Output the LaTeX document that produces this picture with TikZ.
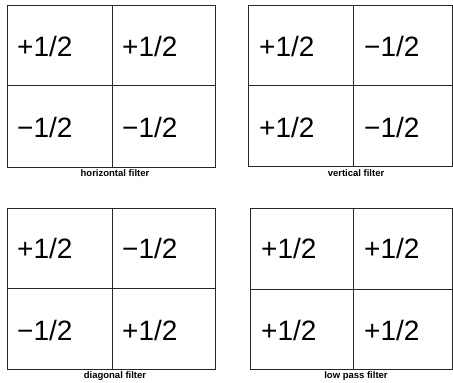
\documentclass[tikz,border=0pt]{standalone}
\usepackage{fontspec}
\setmainfont{Liberation Sans}
\usetikzlibrary{positioning}

\begin{document}
\begin{tikzpicture}[x=1pt,y=-1pt,
  grid/.style={line width=0.7pt,black!85},
  val/.style={anchor=base west,inner sep=0pt,font=\fontsize{28}{28}\selectfont},
  filtername/.style={anchor=base,inner sep=0pt,font=\bfseries\fontsize{9.5}{10}\selectfont}]
  \useasboundingbox (0,0) rectangle (453,383);
  % horizontal filter
  \draw[grid] (7,5) rectangle (215,167);
  \draw[grid] (112,5)--(112,167);
  \draw[grid] (7,85)--(215,85);
  \node[val] (h11) at (17,56) {+1/2};
  \node[val] (h12) at (122,56) {+1/2};
  \node[val] (h21) at (17,137) {−1/2};
  \node[val] (h22) at (122,137) {−1/2};
  \node[filtername] (hname) at (115,176) {horizontal filter};
  % vertical filter
  \draw[grid] (248,5) rectangle (452,166);
  \draw[grid] (353,5)--(353,166);
  \draw[grid] (248,85)--(452,85);
  \node[val] (v11) at (259,56) {+1/2};
  \node[val] (v12) at (364,56) {−1/2};
  \node[val] (v21) at (259,137) {+1/2};
  \node[val] (v22) at (364,137) {−1/2};
  \node[filtername] (vname) at (356,176) {vertical filter};
  % diagonal filter
  \draw[grid] (7,208) rectangle (215,369);
  \draw[grid] (112,208)--(112,369);
  \draw[grid] (7,288)--(215,288);
  \node[val] (d11) at (17,258) {+1/2};
  \node[val] (d12) at (122,258) {−1/2};
  \node[val] (d21) at (17,340) {−1/2};
  \node[val] (d22) at (122,340) {+1/2};
  \node[filtername] (dname) at (115,378) {diagonal filter};
  % low pass filter
  \draw[grid] (250,208) rectangle (452,369);
  \draw[grid] (353,208)--(353,369);
  \draw[grid] (250,289)--(452,289);
  \node[val] (l11) at (261,258) {+1/2};
  \node[val] (l12) at (364,258) {+1/2};
  \node[val] (l21) at (261,340) {+1/2};
  \node[val] (l22) at (364,340) {+1/2};
  \node[filtername] (lname) at (356,378) {low pass filter};
\end{tikzpicture}
\end{document}
